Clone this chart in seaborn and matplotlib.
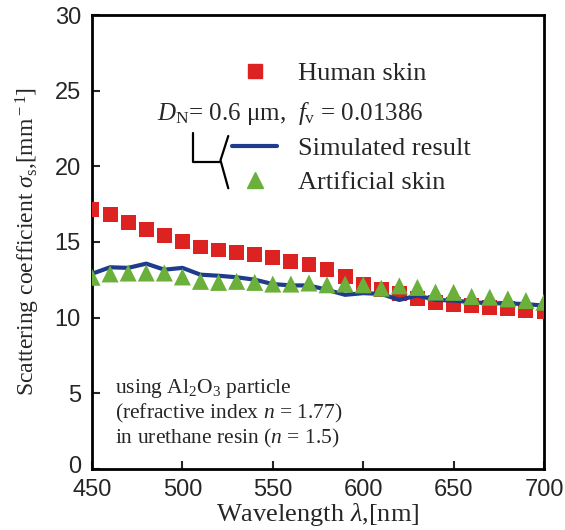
import numpy as np
import pandas as pd
import matplotlib
matplotlib.use("Agg")
import matplotlib.pyplot as plt
import matplotlib.transforms as mtransforms
import seaborn as sns
from matplotlib.lines import Line2D

wavelength = [450, 460, 470, 480, 490, 500, 510, 520, 530, 540, 550, 560, 570,
              580, 590, 600, 610, 620, 630, 640, 650, 660, 670, 680, 690, 700]
human_skin = [17.17, 16.8, 16.3, 15.84, 15.4, 15.02, 14.67, 14.47, 14.33, 14.17,
              14.0, 13.73, 13.51, 13.2, 12.71, 12.22, 11.89, 11.6, 11.29, 11.02,
              10.89, 10.8, 10.69, 10.58, 10.47, 10.4]
simulated = [12.9, 13.33, 13.29, 13.57, 13.17, 13.29, 12.84, 12.77, 12.67, 12.51,
             12.22, 12.13, 12.13, 11.84, 11.51, 11.62, 11.57, 11.17, 11.47, 11.17,
             11.13, 11.02, 10.95, 10.95, 10.89, 10.8]
artificial = [12.67, 12.89, 12.95, 12.95, 12.95, 12.69, 12.4, 12.33, 12.4, 12.33,
              12.22, 12.22, 12.29, 12.17, 12.22, 12.17, 11.95, 12.1, 12.0, 11.69,
              11.67, 11.4, 11.35, 11.24, 11.13, 11.02]
x_ticks = [450, 500, 550, 600, 650, 700]
y_ticks = [0, 5, 10, 15, 20, 25, 30]

df = pd.DataFrame({"wl": wavelength, "human": human_skin,
                   "sim": simulated, "art": artificial})

sns.set_style("ticks")
plt.rcParams["font.family"] = ["Liberation Serif", "DejaVu Serif"]
plt.rcParams["mathtext.fontset"] = "custom"
plt.rcParams["mathtext.rm"] = "Liberation Serif"
plt.rcParams["mathtext.it"] = "Liberation Serif:italic"
plt.rcParams["mathtext.bf"] = "Liberation Serif:bold"

RED = "#DD2222"
BLUE = "#1F3C8C"
GREEN = "#6AB03A"

fig = plt.figure(figsize=(5.65, 5.3), dpi=100)
ax = fig.add_axes([92 / 565, 1 - 469 / 530, (544 - 92) / 565, (469 - 15) / 530])

sns.scatterplot(data=df, x="wl", y="human", ax=ax, marker="s", s=115,
                color=RED, edgecolor="none", zorder=3)
sns.lineplot(data=df, x="wl", y="sim", ax=ax, color=BLUE, linewidth=3,
             zorder=4)
sns.scatterplot(data=df, x="wl", y="art", ax=ax, marker="^", s=150,
                color=GREEN, edgecolor="none", zorder=5)

ax.set_xlim(450, 700)
ax.set_ylim(0, 30)
ax.set_xticks(x_ticks)
ax.set_yticks(y_ticks)
ax.set_xticklabels([str(v) for v in x_ticks], family="Liberation Sans", fontsize=17)
ax.set_yticklabels([str(v) for v in y_ticks], family="Liberation Sans", fontsize=17)
ax.tick_params(axis="both", direction="in", length=6, width=1.5)
ax.tick_params(axis="x", pad=7)
ax.tick_params(axis="y", pad=8)
# lift the "0" label slightly so it clears the "450" label
zero_lbl = ax.get_yticklabels()[0]
zero_lbl.set_transform(zero_lbl.get_transform() +
                       mtransforms.ScaledTranslation(0, 3 / 72, fig.dpi_scale_trans))
for sp in ax.spines.values():
    sp.set_linewidth(2.0)
    sp.set_color("black")

ax.set_xlabel(r"Wavelength $\lambda$,[nm]", fontsize=19, labelpad=0.5)
ax.set_ylabel("Scattering coefficient $\\sigma_{\\rm s}$,[mm$^{\\rm -1}$]",
              fontsize=17, labelpad=9)

# legends
h1 = [Line2D([], [], marker="s", color=RED, linestyle="none", markersize=10)]
leg1 = ax.legend(h1, ["Human skin"], loc="upper left",
                 bbox_to_anchor=(0.31, 0.898), frameon=False, fontsize=19,
                 handlelength=1.7, handletextpad=0.8, borderpad=0,
                 borderaxespad=0)
ax.add_artist(leg1)
h2 = [Line2D([], [], color=BLUE, linewidth=3),
      Line2D([], [], marker="^", color=GREEN, linestyle="none", markersize=11)]
ax.legend(h2, ["Simulated result", "Artificial skin"], loc="upper left",
          bbox_to_anchor=(0.31, 0.732), frameon=False, fontsize=19,
          handlelength=1.7, handletextpad=0.8, borderpad=0, borderaxespad=0,
          labelspacing=0.4)

ax.text(0.144, 0.784, r"$D_{\rm N}$= 0.6 μm,  $f_{\rm v}$ = 0.01386",
        transform=ax.transAxes, fontsize=18, va="center", ha="left")

# bracket
ax.plot([0.2241, 0.2241, 0.2832], [0.7401, 0.6769, 0.6769], color="black",
        lw=1.6, transform=ax.transAxes, clip_on=False)
ax.plot([0.3015, 0.2843, 0.3015], [0.7335, 0.680, 0.6183], color="black",
        lw=1.6, transform=ax.transAxes, clip_on=False)

ax.text(0.051, 0.178, r"using Al$_2$O$_3$ particle", transform=ax.transAxes,
        fontsize=15.5, va="center", ha="left")
ax.text(0.051, 0.123, r"(refractive index $n$ = 1.77)", transform=ax.transAxes,
        fontsize=15.5, va="center", ha="left")
ax.text(0.051, 0.068, r"in urethane resin ($n$ = 1.5)", transform=ax.transAxes,
        fontsize=15.5, va="center", ha="left")

fig.savefig("out.png", dpi=100)
